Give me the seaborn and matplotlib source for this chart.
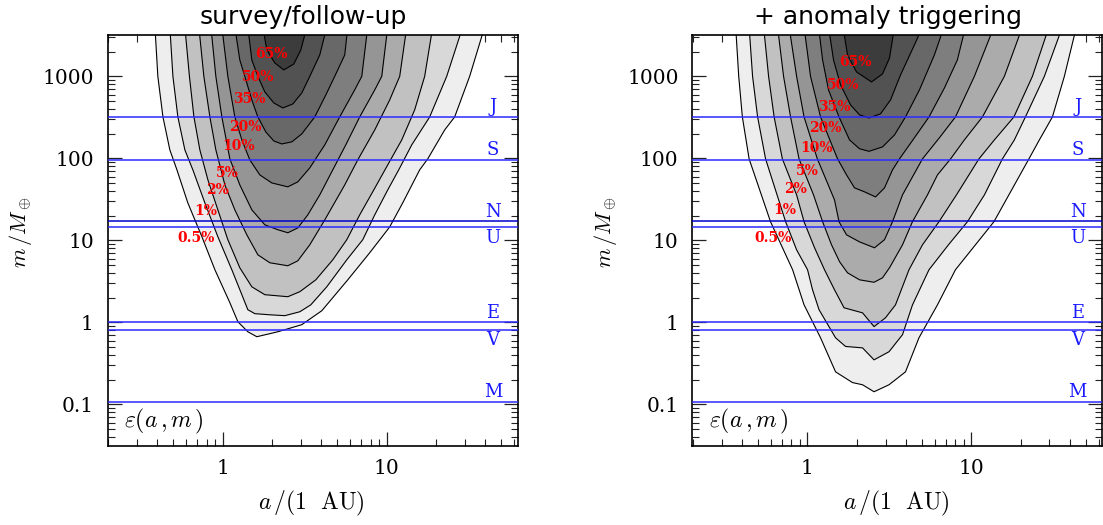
"""
Detection efficiency contours in the (a, m) plane, survey vs. anomaly triggering.
"""

import matplotlib
matplotlib.use("Agg")
import matplotlib.pyplot as plt
from matplotlib import ticker
import numpy as np
import seaborn as sns

LEVELS = ["0.5%", "1%", "2%", "5%", "10%", "20%", "35%", "50%", "65%"]

# contour paths as (a [AU], m [M_earth]); left side down, bottom, right side up
SURVEY_05 = [(0.387, 4000), (0.403, 1000), (0.433, 320), (0.477, 127), (0.527, 72.4),
             (0.614, 28.7), (0.748, 11.1), (0.898, 4.39), (1.108, 1.74), (1.240, 1.02),
             (1.426, 0.77), (1.618, 0.67), (2.173, 0.77), (3.043, 0.94), (4.028, 1.39),
             (4.32, 1.64), (5.802, 3.31), (7.89, 7.06), (10.45, 14.6), (12.55, 28.7),
             (15.92, 72.4), (17.83, 98.6), (22.61, 222), (26.02, 320), (32.12, 1000),
             (39.64, 4000)]
SURVEY_1 = [(0.477, 4000), (0.498, 1000), (0.534, 320), (0.589, 127), (0.659, 72.4),
            (0.780, 28.7), (0.936, 11.1), (1.139, 4.39), (1.311, 2.18), (1.426, 1.43),
            (1.574, 1.28), (1.942, 1.24), (2.397, 1.21), (2.958, 1.35), (3.452, 1.64),
            (4.32, 2.72), (5.72, 5.80), (7.16, 10.2), (8.47, 20.5), (10.17, 41.3),
            (11.86, 72.4), (14.24, 146), (18.32, 320), (23.27, 1000), (29.14, 4000)]
SURVEY_2 = [(0.589, 4000), (0.628, 1000), (0.669, 320), (0.727, 127), (0.814, 54.7),
            (0.936, 23.6), (1.077, 10.2), (1.274, 4.64), (1.508, 2.72), (1.810, 2.18),
            (2.5, 2.06), (2.958, 2.37), (3.704, 3.31), (4.699, 5.80), (5.72, 10.2),
            (6.86, 20.5), (8.36, 41.3), (10.17, 83.4), (12.38, 168), (14.84, 390),
            (17.08, 1000), (19.12, 4000)]
SURVEY_5 = [(0.717, 4000), (0.769, 1000), (0.837, 320), (0.910, 127), (1.033, 47.5),
            (1.188, 23.6), (1.406, 11.7), (1.641, 6.68), (1.942, 5.34), (2.5, 4.91),
            (2.876, 5.64), (3.403, 8.84), (4.20, 17.8), (5.56, 47.5), (6.676, 95.9),
            (8.47, 222), (10.45, 516), (12.03, 1000), (13.28, 4000)]
SURVEY_10 = [(0.849, 4000), (0.910, 1000), (0.990, 320), (1.108, 98.6), (1.274, 47.5),
             (1.508, 23.6), (1.810, 15.5), (2.173, 13.5), (2.5, 12.4), (2.876, 14.2),
             (3.310, 20.5), (3.915, 35.9), (4.699, 72.4), (5.641, 146), (6.86, 320),
             (8.47, 683), (9.348, 1000), (10.17, 4000)]
SURVEY_20 = [(0.990, 4000), (1.077, 1000), (1.188, 320), (1.311, 168), (1.466, 95.9),
             (1.687, 62.9), (1.997, 50.2), (2.5, 45.0), (2.876, 51.7), (3.403, 76.6),
             (4.20, 146), (5.18, 320), (6.39, 683), (7.062, 1000), (7.679, 4000)]
SURVEY_35 = [(1.188, 4000), (1.274, 1584), (1.367, 1000), (1.508, 516), (1.641, 320),
             (1.836, 210), (2.054, 163), (2.298, 150), (2.645, 159), (3.043, 199),
             (3.650, 320), (4.262, 593), (4.83, 1000), (5.56, 1823), (5.802, 4000)]
SURVEY_50 = [(1.426, 4000), (1.508, 1584), (1.641, 1000), (1.810, 646), (2.054, 474),
             (2.331, 412), (2.682, 461), (3.043, 628), (3.403, 1000), (3.915, 1823),
             (4.32, 4000)]
SURVEY_65 = [(1.76, 4000), (1.862, 2097), (2.083, 1456), (2.363, 1197), (2.72, 1416),
             (3.0, 2097), (3.265, 4000)]

ANOMALY_05 = [(0.366, 4000), (0.382, 1000), (0.402, 320), (0.442, 98.6), (0.597, 16.9),
              (0.814, 4.39), (0.956, 1.64), (1.205, 0.65), (1.488, 0.25), (1.888, 0.185),
              (2.173, 0.174), (2.554, 0.143), (3.152, 0.174), (3.972, 0.25), (4.799, 0.65),
              (6.223, 1.64), (8.010, 4.39), (13.75, 16.9), (22.47, 98.6), (26.02, 168),
              (31.25, 320), (36.96, 1000), (43.77, 4000)]
ANOMALY_1 = [(0.442, 4000), (0.464, 1000), (0.498, 320), (0.557, 98.6), (0.738, 16.9),
             (0.861, 7.68), (1.004, 4.39), (1.077, 2.50), (1.180, 1.43), (1.488, 0.65),
             (1.712, 0.51), (2.173, 0.49), (2.554, 0.35), (3.152, 0.44), (3.809, 0.71),
             (4.383, 1.64), (5.524, 4.39), (7.26, 8.84), (9.482, 16.9), (12.03, 35.9),
             (15.49, 98.6), (18.32, 168), (21.39, 320), (27.91, 1000), (35.96, 4000)]
ANOMALY_2 = [(0.542, 4000), (0.581, 1000), (0.628, 320), (0.705, 98.6), (0.861, 35.9),
             (0.956, 16.9), (1.108, 8.13), (1.274, 4.39), (1.466, 2.50), (1.676, 1.51),
             (2.173, 1.31), (2.554, 0.89), (3.0, 1.14), (3.452, 1.64), (4.172, 4.39),
             (5.041, 8.84), (6.356, 16.9), (8.125, 35.9), (11.14, 98.6), (13.84, 168),
             (18.20, 320), (23.6, 1000), (29.76, 4000)]
ANOMALY_5 = [(0.659, 4000), (0.717, 1000), (0.791, 320), (0.891, 98.6), (1.092, 35.9),
             (1.240, 16.9), (1.406, 8.84), (1.574, 5.50), (1.76, 4.03), (2.083, 3.31),
             (2.554, 3.09), (2.876, 3.5), (3.173, 4.64), (3.809, 8.84), (4.38, 16.9),
             (5.41, 35.9), (6.223, 62.9), (7.48, 98.6), (9.08, 168), (11.70, 320),
             (15.92, 1000), (20.51, 4000)]
ANOMALY_10 = [(0.775, 4000), (0.861, 1000), (0.956, 320), (1.152, 98.6), (1.466, 31.2),
              (1.562, 16.9), (1.736, 11.7), (2.083, 9.6), (2.571, 8.13), (2.958, 10.2),
              (3.310, 16.9), (3.809, 35.9), (5.041, 98.6), (6.39, 178), (8.010, 320),
              (10.45, 1000), (13.75, 4000)]
ANOMALY_20 = [(0.956, 4000), (1.047, 1000), (1.205, 320), (1.530, 98.6), (1.736, 62.9),
              (1.942, 43.7), (2.234, 39.1), (2.608, 33.9), (2.958, 43.7), (3.310, 72.4),
              (3.650, 98.6), (4.50, 178), (5.524, 320), (6.86, 721), (8.23, 1584),
              (9.218, 4000)]
ANOMALY_35 = [(1.172, 4000), (1.240, 1584), (1.348, 683), (1.562, 320), (1.810, 168),
              (2.083, 131), (2.380, 122), (2.876, 138), (3.403, 193), (3.972, 320),
              (4.83, 683), (5.96, 1823), (6.82, 4000)]
ANOMALY_50 = [(1.348, 4000), (1.446, 1584), (1.596, 786), (1.836, 449), (2.083, 339),
              (2.380, 311), (2.797, 349), (3.220, 516), (3.704, 1040), (4.50, 2412),
              (5.041, 4000)]
ANOMALY_65 = [(1.653, 4000), (1.76, 1823), (1.997, 1132), (2.465, 855), (2.876, 1070),
              (3.173, 1675), (3.403, 4000)]

SURVEY_CONTOURS = [SURVEY_05, SURVEY_1, SURVEY_2, SURVEY_5, SURVEY_10,
                   SURVEY_20, SURVEY_35, SURVEY_50, SURVEY_65]
ANOMALY_CONTOURS = [ANOMALY_05, ANOMALY_1, ANOMALY_2, ANOMALY_5, ANOMALY_10,
                    ANOMALY_20, ANOMALY_35, ANOMALY_50, ANOMALY_65]

# contour label positions
SURVEY_LABEL_A = [0.688, 0.791, 0.932, 1.067, 1.245, 1.380, 1.446, 1.648, 1.989]
SURVEY_LABEL_M = [10.76, 23.1, 41.3, 66, 143, 240, 531, 991, 1875]
ANOMALY_LABEL_A = [0.622, 0.732, 0.851, 1.0, 1.136, 1.297, 1.457, 1.66, 1.956]
ANOMALY_LABEL_M = [10.76, 23.6, 42.2, 71, 133, 237, 421, 786, 1510]

# solar system planets
PLANETS = ["J", "S", "N", "U", "E", "V", "M"]
PLANET_MASS = [317.8, 95.2, 17.1, 14.5, 1.0, 0.815, 0.107]
PLANET_BELOW = [False, False, False, True, False, True, False]
PLANET_LABEL_A = 44.6

TITLES = ["survey/follow-up", "+ anomaly triggering"]

sns.set_theme(style="ticks")
plt.rcParams["font.family"] = ["DejaVu Serif"]
plt.rcParams["mathtext.fontset"] = "cm"
plt.rcParams["text.color"] = "black"
plt.rcParams["axes.labelcolor"] = "black"

GREYS = sns.blend_palette(["#eeeeee", "#3c3c3c"], len(LEVELS))


def draw_panel(ax, contours, label_a, label_m, title):
    # filled bands, outermost first
    for path, colour in zip(contours, GREYS):
        a = [p[0] for p in path]
        m = [p[1] for p in path]
        ax.fill(a, m, color=colour, lw=0, zorder=1)
    for path in contours:
        a = [p[0] for p in path] + [path[0][0]]
        m = [p[1] for p in path] + [path[0][1]]
        sns.lineplot(x=a, y=m, sort=False, estimator=None, color="black",
                     lw=0.8, ax=ax, zorder=2)

    for name, mass, below in zip(PLANETS, PLANET_MASS, PLANET_BELOW):
        ax.axhline(mass, color="#0000cc" if name == "N" else "#2a2aff",
                   lw=1.1, zorder=3)
        ax.annotate(name, (PLANET_LABEL_A, mass),
                    xytext=(0, -1 if below else 0.5), textcoords="offset points",
                    ha="center", va="top" if below else "bottom",
                    color="#1a1aff", fontsize=13, zorder=4)

    for text, a, m in zip(LEVELS, label_a, label_m):
        ax.text(a, m, text, color="#ff0000", fontsize=10, fontweight="bold",
                ha="center", va="center", zorder=5)

    ax.text(0.04, 0.045, r"$\varepsilon(a\,,m\,)$", transform=ax.transAxes,
            fontsize=17, ha="left", va="baseline")

    ax.set_xscale("log")
    ax.set_yscale("log")
    ax.set_xlim(10 ** -0.7, 10 ** 1.8)
    ax.set_ylim(10 ** -1.5, 10 ** 3.5)

    fmt = ticker.FuncFormatter(lambda v, p: f"{v:g}")
    ax.xaxis.set_major_locator(ticker.LogLocator(base=10, numticks=20))
    ax.yaxis.set_major_locator(ticker.LogLocator(base=10, numticks=20))
    for axis in (ax.xaxis, ax.yaxis):
        axis.set_major_formatter(fmt)
        axis.set_minor_locator(ticker.LogLocator(base=10, subs=np.arange(2, 10),
                                                 numticks=100))
        axis.set_minor_formatter(ticker.NullFormatter())

    ax.tick_params(which="both", direction="in", top=True, right=True,
                   colors="#222222", labelcolor="black")
    ax.tick_params(which="major", length=10, width=0.9, labelsize=14.5, pad=10)
    ax.tick_params(which="minor", length=5.3, width=0.8)
    for spine in ax.spines.values():
        spine.set_linewidth(1.2)
        spine.set_color("black")

    ax.set_xlabel(r"$a\,/(1\ \ \mathrm{AU})$", fontsize=17)
    ax.set_ylabel(r"$m\,/M_\oplus$", fontsize=16)
    ax.xaxis.set_label_coords(0.497, -0.105)
    ax.yaxis.set_label_coords(-0.18, 0.52)
    ax.set_title(title, fontfamily="DejaVu Sans", fontsize=18, pad=8, x=0.478,
                 color="black")
    ax.grid(False)


fig = plt.figure(figsize=(11.03, 5.25), dpi=100)
ax_left = fig.add_axes([0.0977, 0.1514, 0.3717, 0.7813])
ax_right = fig.add_axes([0.6278, 0.1514, 0.3717, 0.7813])

draw_panel(ax_left, SURVEY_CONTOURS, SURVEY_LABEL_A, SURVEY_LABEL_M, TITLES[0])
draw_panel(ax_right, ANOMALY_CONTOURS, ANOMALY_LABEL_A, ANOMALY_LABEL_M, TITLES[1])

fig.savefig("out.png", dpi=100)
